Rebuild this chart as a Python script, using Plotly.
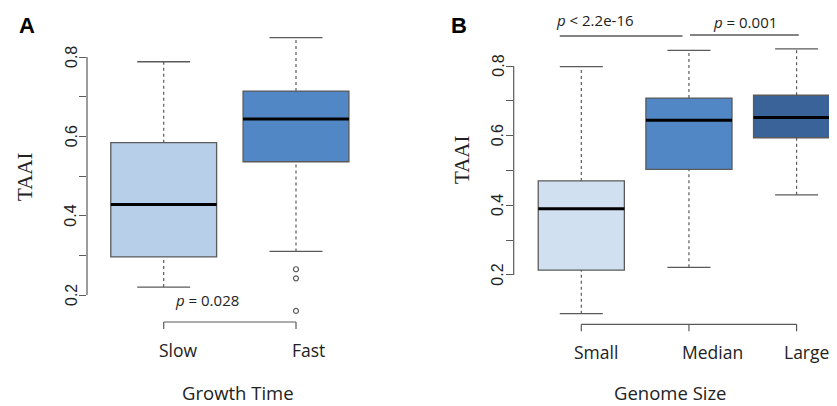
import plotly.graph_objects as go

# The page renders the figure with an 8px body margin, so all reference pixel
# positions are shifted by OFF; the visible area ends 8px before the right edge.
OFF = 8
W, H = 837 - 2 * OFF, 406 - OFF

# ---------------- data ----------------
a_categories = ["Slow", "Fast"]
a_q1 = [0.296, 0.536]
a_median = [0.428, 0.644]
a_q3 = [0.584, 0.714]
a_lower = [0.220, 0.310]
a_upper = [0.788, 0.849]
a_outliers = [[], [0.265, 0.242, 0.160]]
a_colors = ["#b7cfe9", "#5287c6"]

b_categories = ["Small", "Median", "Large"]
b_q1 = [0.214, 0.503, 0.594]
b_median = [0.390, 0.644, 0.652]
b_q3 = [0.470, 0.708, 0.716]
b_lower = [0.089, 0.222, 0.430]
b_upper = [0.798, 0.845, 0.849]
b_outliers = [[], [], []]
b_colors = ["#d1e0f1", "#5287c6", "#3a6399"]

y_tickvals = [0.2, 0.3, 0.4, 0.5, 0.6, 0.7, 0.8]
y_ticktext = ["0.2", "", "0.4", "", "0.6", "", "0.8"]

a_pvalue = "<i>p</i> = 0.028"
b_pvalues = ["<i>p</i> &lt; 2.2e-16", "<i>p</i> = 0.001"]

# ---------------- layout helpers (reference pixels -> paper) ----------------
def px(x):
    return (x - OFF) / W

def py(y):
    return 1 - (y - OFF) / H

def xrange_for(dom_px, c1_px, spacing):
    lo = (dom_px[0] - c1_px) / spacing
    hi = (dom_px[1] - c1_px) / spacing
    return [lo, hi]

def yrange_for(dom_px, y08_px, per_unit):
    top = 0.8 + (y08_px - dom_px[0]) / per_unit
    bot = 0.8 - (dom_px[1] - y08_px) / per_unit
    return [bot, top]

A_xdom = [87, 385]
A_ydom = [22, 322]
B_xdom = [513.7, OFF + W]
B_ydom = [40, 322]

fig = go.Figure()

LINE = "#5a5a5a"
TEXTC = "#222"
TICKFONT = dict(family="Liberation Sans, Arial, sans-serif", size=16, color=TEXTC)


def draw_panel(xa, ya, cats, q1, med, q3, lo, hi, outl, colors, axis_px):
    bw = 0.8
    cw = 0.4
    for i, c in enumerate(cats):
        fig.add_shape(type="line", xref=xa, yref=ya, x0=i, x1=i, y0=q3[i], y1=hi[i],
                      line=dict(color=LINE, width=1.2, dash="3px,3px"), layer="below")
        fig.add_shape(type="line", xref=xa, yref=ya, x0=i, x1=i, y0=lo[i], y1=q1[i],
                      line=dict(color=LINE, width=1.2, dash="3px,3px"), layer="below")
        for v in (lo[i], hi[i]):
            fig.add_shape(type="line", xref=xa, yref=ya, x0=i - cw / 2, x1=i + cw / 2,
                          y0=v, y1=v, line=dict(color=LINE, width=1.3))
        fig.add_shape(type="rect", xref=xa, yref=ya, x0=i - bw / 2, x1=i + bw / 2,
                      y0=q1[i], y1=q3[i], fillcolor=colors[i],
                      line=dict(color=LINE, width=1.3))
        fig.add_shape(type="line", xref=xa, yref=ya, x0=i - bw / 2, x1=i + bw / 2,
                      y0=med[i], y1=med[i], line=dict(color="black", width=3))
        if outl[i]:
            fig.add_trace(go.Scatter(x=[i] * len(outl[i]), y=outl[i], mode="markers",
                                     xaxis=xa, yaxis=ya, showlegend=False, hoverinfo="skip",
                                     marker=dict(symbol="circle-open", size=5,
                                                 color=LINE, line=dict(width=1.2))))
    # y axis line between first and last tick
    fig.add_shape(type="line", xref=xa + " domain", yref=ya, x0=0, x1=0,
                  y0=y_tickvals[0], y1=y_tickvals[-1], line=dict(color=LINE, width=1.2))
    # rotated tick labels
    for v, t in zip(y_tickvals, y_ticktext):
        if t:
            fig.add_annotation(x=px(axis_px - 16), y=v, xref="paper", yref=ya, text=t,
                               textangle=-90, showarrow=False, font=TICKFONT,
                               xanchor="center", yanchor="middle")


fig.add_trace(go.Scatter(x=[0], y=[0.5], xaxis="x", yaxis="y", mode="markers",
                         marker=dict(opacity=0), showlegend=False, hoverinfo="skip"))
fig.add_trace(go.Scatter(x=[0], y=[0.5], xaxis="x2", yaxis="y2", mode="markers",
                         marker=dict(opacity=0), showlegend=False, hoverinfo="skip"))

draw_panel("x", "y", a_categories, a_q1, a_median, a_q3, a_lower, a_upper,
           a_outliers, a_colors, A_xdom[0])
draw_panel("x2", "y2", b_categories, b_q1, b_median, b_q3, b_lower, b_upper,
           b_outliers, b_colors, B_xdom[0])

yaxis_common = dict(tickvals=y_tickvals, ticks="outside", ticklen=7, showticklabels=False,
                    tickcolor=LINE, tickwidth=1.2, showgrid=False,
                    zeroline=False, showline=False)
xaxis_common = dict(visible=False, showgrid=False, zeroline=False)

fig.update_layout(
    width=W, height=H,
    margin=dict(l=0, r=0, t=0, b=0, pad=0),
    paper_bgcolor="white", plot_bgcolor="white",
    showlegend=False,
    xaxis=dict(domain=[px(A_xdom[0]), px(A_xdom[1])],
               range=xrange_for(A_xdom, 163.7, 132.3), **xaxis_common),
    yaxis=dict(domain=[py(A_ydom[1]), py(A_ydom[0])],
               range=yrange_for(A_ydom, 57, 396.7), anchor="x", **yaxis_common),
    xaxis2=dict(domain=[px(B_xdom[0]), px(B_xdom[1])],
                range=xrange_for(B_xdom, 581.3, 107.65),
                anchor="y2", **xaxis_common),
    yaxis2=dict(domain=[py(B_ydom[1]), py(B_ydom[0])],
                range=yrange_for(B_ydom, 66, 348.3), anchor="x2", **yaxis_common),
)


def xaxis_bracket(xa, ncat, ypix):
    yp = py(ypix)
    fig.add_shape(type="line", xref=xa, yref="paper", x0=0, x1=ncat - 1, y0=yp, y1=yp,
                  line=dict(color=LINE, width=1.2))
    for i in range(ncat):
        fig.add_shape(type="line", xref=xa, yref="paper", x0=i, x1=i, y0=yp, y1=py(ypix + 7),
                      line=dict(color=LINE, width=1.2))

xaxis_bracket("x", len(a_categories), 322)
xaxis_bracket("x2", len(b_categories), 324.3)

LABFONT = dict(family="Open Sans, Liberation Sans, sans-serif", size=17.5, color=TEXTC)


def ann(xp, yp, text, font, angle=0, yanchor="middle"):
    fig.add_annotation(x=px(xp), y=py(yp), xref="paper", yref="paper", text=text,
                       showarrow=False, font=font, textangle=angle,
                       xanchor="center", yanchor=yanchor)

# category labels
for c, xp in zip(a_categories, [178, 308]):
    ann(xp, 350, c, LABFONT)
for c, xp in zip(b_categories, [596, 712.3, 806]):
    ann(xp, 351.5, c, LABFONT)

TITLEFONT = dict(family="Open Sans, sans-serif", size=18.5, color=TEXTC)
ann(238, 392, "Growth Time", TITLEFONT)
ann(670, 392, "Genome Size", TITLEFONT)
SERIF = dict(family="Liberation Serif, Times New Roman, serif", size=21, color=TEXTC)
ann(25, 177, "TAAI", SERIF, -90)
ann(462, 160, "TAAI", SERIF, -90)

LETTER = dict(family="Liberation Sans, Arial, sans-serif", size=22, color="black")
ann(27, 26, "<b>A</b>", LETTER)
ann(459, 26, "<b>B</b>", LETTER)

PFONT = dict(family="Open Sans, Liberation Sans, sans-serif", size=15, color=TEXTC)
ann(207, 300, a_pvalue, PFONT)
fig.add_shape(type="line", xref="x2", yref="paper", x0=-0.2, x1=0.94, y0=py(36), y1=py(36),
              line=dict(color=LINE, width=1.3))
fig.add_shape(type="line", xref="x2", yref="paper", x0=1.01, x1=2.02, y0=py(35), y1=py(35),
              line=dict(color=LINE, width=1.3))
ann(595, 8.5, b_pvalues[0], PFONT, yanchor="top")
ann(745, 9.5, b_pvalues[1], PFONT, yanchor="top")

fig.write_html("out.html")
